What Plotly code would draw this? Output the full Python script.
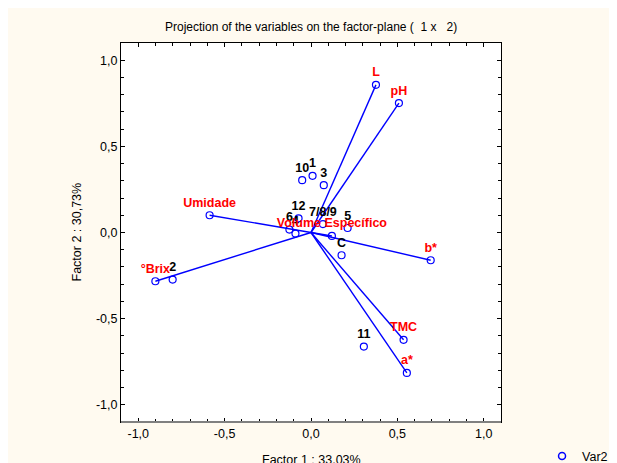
import plotly.graph_objects as go

# Variables (projected on factor plane)
variables = ["L", "pH", "Umidade", "b*", "°Brix", "TMC", "a*", "Volume Específico"]
var_f1 = [0.376, 0.509, -0.587, 0.693, -0.901, 0.536, 0.555, 0.121]
var_f2 = [0.857, 0.751, 0.100, -0.161, -0.283, -0.623, -0.815, -0.020]

# Supplementary cases
cases = ["10", "1", "3", "12", "7/8/9", "6", "4", "5", "C", "2", "11"]
case_f1 = [-0.051, 0.009, 0.074, -0.072, 0.069, -0.125, -0.090, 0.212, 0.177, -0.801, 0.306]
case_f2 = [0.304, 0.329, 0.275, 0.082, 0.049, 0.017, -0.006, 0.026, -0.132, -0.273, -0.662]

tick_vals = [-1.0, -0.5, 0.0, 0.5, 1.0]
tick_text = ["-1,0", "-0,5", "0,0", "0,5", "1,0"]

BLUE = "#0000FF"
FONT = "Liberation Sans, Arial, sans-serif"

# vectors from origin
lx, ly = [], []
for a, b in zip(var_f1, var_f2):
    lx += [0, a, None]
    ly += [0, b, None]

fig = go.Figure()
fig.add_trace(go.Scatter(x=lx, y=ly, mode="lines",
                         line=dict(color=BLUE, width=1.4),
                         showlegend=False, hoverinfo="skip"))

all_x = case_f1 + var_f1
all_y = case_f2 + var_f2
all_t = cases + variables
all_c = ["#000000"] * len(cases) + ["#FF0000"] * len(variables)

fig.add_trace(go.Scatter(
    x=all_x, y=all_y, text=all_t, mode="markers+text",
    textposition="top center",
    textfont=dict(family=FONT, size=12.5, color=all_c, weight="bold"),
    marker=dict(symbol="circle-open", size=7, color=BLUE, line=dict(width=1.2, color=BLUE)),
    showlegend=False, cliponaxis=False))

fig.add_trace(go.Scatter(
    x=[None], y=[None], mode="markers", name="Var2",
    marker=dict(symbol="circle-open", size=7, color=BLUE, line=dict(width=1.5, color=BLUE))))

axis_common = dict(
    tickvals=tick_vals, ticktext=tick_text,
    ticks="inside", ticklen=4, tickcolor="#000000", tickwidth=1,
    minor=dict(dtick=0.1, ticks="inside", ticklen=3, tickcolor="#000000"),
    showline=True, linecolor="#000000", linewidth=1, mirror="allticks",
    showgrid=False, zeroline=False,
    tickfont=dict(family=FONT, size=12.5, color="#000000"),
    range=[-1.1, 1.1],
)

fig.update_layout(
    width=617, height=463,
    margin=dict(l=113, r=124, t=35, b=48.5, autoexpand=False),
    paper_bgcolor="#FFFAF0", plot_bgcolor="#FFFFFF",
    xaxis=axis_common,
    yaxis=axis_common,
    font=dict(family=FONT, size=12, color="#000000"),
    legend=dict(x=1.108, y=-0.091, xanchor="left", yanchor="middle",
                bgcolor="rgba(0,0,0,0)", font=dict(family=FONT, size=12.5),
                itemwidth=30),
    annotations=[
        dict(text="Projection of the variables on the factor-plane (  1 x   2)",
             xref="paper", yref="paper", x=0.5, y=1, yshift=7, showarrow=False,
             font=dict(family=FONT, size=12), yanchor="bottom", xanchor="center"),
        dict(text="Factor 1 : 33,03%", xref="paper", yref="paper", x=0.5, y=0,
             yshift=-29, showarrow=False, yanchor="top", font=dict(family=FONT, size=12.5)),
        dict(text="Factor 2 : 30,73%", xref="paper", yref="paper", x=0, y=0.5,
             xshift=-45, textangle=-90, showarrow=False, xanchor="center",
             font=dict(family=FONT, size=12.5)),
    ],
    shapes=[dict(type="line", xref="paper", yref="paper", x0=0, x1=1, y0=0, y1=0,
                 line=dict(color="#808080", width=2))],
)

fig.write_html("out.html")
